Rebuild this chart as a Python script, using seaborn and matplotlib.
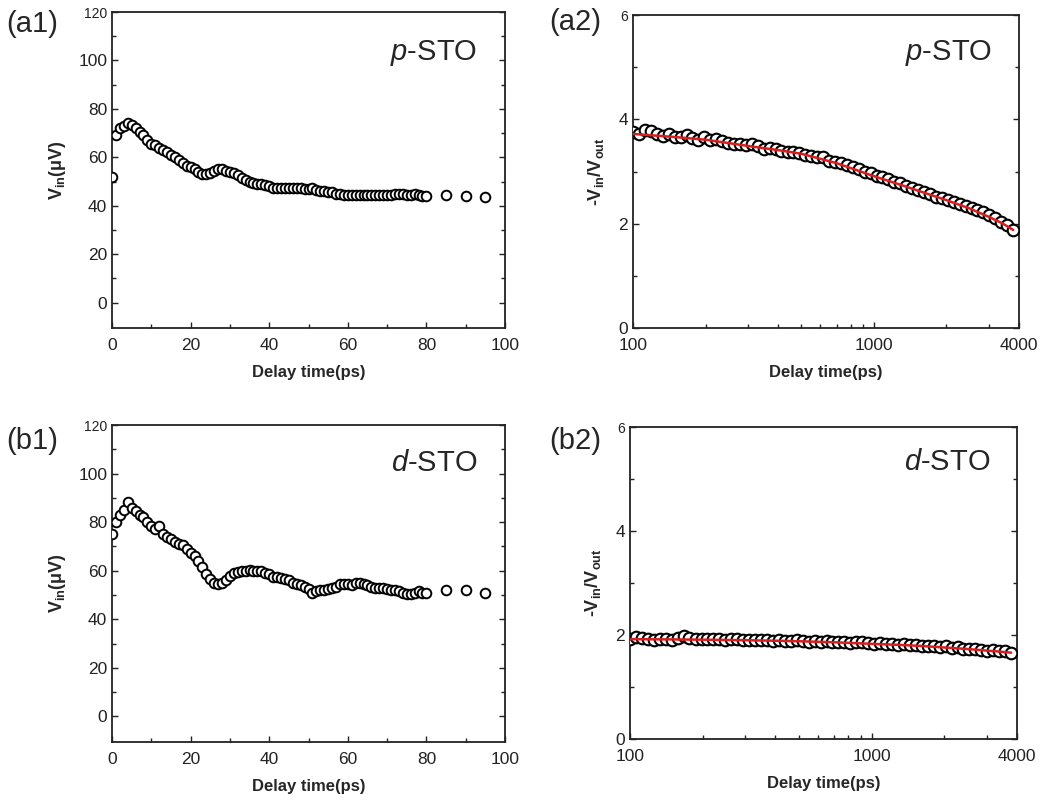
import numpy as np
import pandas as pd
import matplotlib
matplotlib.use("Agg")
import matplotlib.pyplot as plt
import seaborn as sns
from matplotlib.ticker import FixedLocator, NullFormatter

# ---- (a1) p-STO, V_in vs delay time ----
a1_t = [0, 1, 2, 3, 4, 5, 6, 7, 8, 9, 10, 11, 12, 13, 14, 15, 16, 17, 18, 19,
        20, 21, 22, 23, 24, 25, 26, 27, 28, 29, 30, 31, 32, 33, 34, 35, 36, 37, 38, 39,
        40, 41, 42, 43, 44, 45, 46, 47, 48, 49, 50, 51, 52, 53, 54, 55, 56, 57, 58, 59,
        60, 61, 62, 63, 64, 65, 66, 67, 68, 69, 70, 71, 72, 73, 74, 75, 76, 77, 78, 79,
        80, 85, 90, 95]
a1_v = [52, 69, 72, 73, 74, 73.5, 72, 70.5, 69, 67, 65.5, 65, 64, 63, 62, 61, 60, 59, 57.5, 56.5,
        56, 55, 54, 53, 53, 53.5, 54.5, 55, 55, 54.5, 54, 53.5, 52.5, 51.5, 50.5, 50, 49.5, 49, 49, 48.5,
        48, 47.5, 47.5, 47.5, 47.5, 47.5, 47.5, 47.5, 47.5, 47, 47, 47.5, 46.5, 46, 46, 45.5, 45.5, 45, 45, 44.5,
        44.5, 44.5, 44.5, 44.5, 44.5, 44.5, 44.5, 44.5, 44.5, 44.5, 44.5, 44.5, 45, 45, 45, 44.5, 44.5, 45, 44.5, 44,
        44, 44.5, 44, 43.5]

# ---- (b1) d-STO, V_in vs delay time ----
b1_t = a1_t
b1_v = [75, 80, 83, 85, 88.5, 86, 84.5, 83, 82, 80, 78.5, 77, 78.5, 75, 74, 73, 72, 71, 70.5, 69,
        67.5, 66, 64, 61.5, 58.5, 56.5, 55, 54.5, 55, 56, 58, 59, 59.5, 60, 60, 60.5, 60, 60, 60, 59,
        58.5, 57.5, 57.5, 57, 56.5, 56, 55, 54.5, 54, 53.5, 52.5, 51, 51.5, 52, 52, 52.5, 53, 53.5, 54.5, 54.5,
        54.5, 54, 55, 55, 54.5, 54, 53.5, 53, 53, 53, 52.5, 52, 52, 51.5, 51, 50.5, 50.5, 51, 51.5, 51,
        51, 52, 52, 51]

# ---- (a2)/(b2) -V_in/V_out vs delay time (log axis) ----
ratio_t = [100, 106, 112, 119, 126, 133, 141, 149, 158, 167, 176, 187, 198, 209, 221, 234,
           248, 263, 278, 294, 311, 329, 349, 369, 391, 413, 438, 463, 490, 519, 549, 581,
           615, 651, 689, 729, 772, 817, 865, 915, 969, 1025, 1085, 1148, 1215, 1286, 1361, 1441,
           1525, 1614, 1708, 1808, 1914, 2026, 2144, 2269, 2402, 2542, 2690, 2848, 3014, 3190, 3376,
           3573, 3782]
a2_r = [3.76, 3.72, 3.80, 3.77, 3.71, 3.69, 3.72, 3.67, 3.66, 3.70, 3.64, 3.61, 3.66, 3.60, 3.63, 3.58,
        3.54, 3.53, 3.52, 3.51, 3.53, 3.49, 3.44, 3.45, 3.43, 3.40, 3.38, 3.37, 3.35, 3.32, 3.30, 3.28,
        3.27, 3.20, 3.19, 3.16, 3.13, 3.08, 3.05, 3.00, 2.97, 2.92, 2.89, 2.85, 2.80, 2.77, 2.72, 2.69,
        2.64, 2.61, 2.57, 2.52, 2.49, 2.45, 2.41, 2.38, 2.34, 2.30, 2.26, 2.22, 2.16, 2.10, 2.03,
        1.97, 1.88]
b2_r = [1.92, 1.97, 1.95, 1.92, 1.91, 1.93, 1.93, 1.91, 1.94, 1.98, 1.94, 1.93, 1.93, 1.92, 1.93, 1.93,
        1.91, 1.92, 1.92, 1.90, 1.91, 1.90, 1.90, 1.91, 1.89, 1.90, 1.89, 1.88, 1.91, 1.89, 1.87, 1.88,
        1.87, 1.88, 1.86, 1.86, 1.87, 1.85, 1.86, 1.86, 1.84, 1.83, 1.84, 1.83, 1.83, 1.81, 1.82, 1.80,
        1.81, 1.79, 1.79, 1.78, 1.77, 1.78, 1.75, 1.76, 1.74, 1.73, 1.74, 1.72, 1.70, 1.71, 1.69,
        1.69, 1.66]

# fitted curves (red)
fit_t = [100, 150, 200, 300, 400, 500, 700, 1000, 1300, 1600, 2000, 2500, 3000, 3400, 3782]
a2_fit = [3.72, 3.66, 3.61, 3.49, 3.41, 3.34, 3.16, 2.91, 2.74, 2.60, 2.45, 2.29, 2.13, 2.01, 1.88]
b2_fit = [1.92, 1.915, 1.91, 1.90, 1.89, 1.88, 1.86, 1.83, 1.81, 1.79, 1.76, 1.73, 1.70, 1.68, 1.66]

panel_tags = ["(a1)", "(a2)", "(b1)", "(b2)"]
sample_names = [r"$\mathit{p}$-STO", r"$\mathit{p}$-STO", r"$\mathit{d}$-STO", r"$\mathit{d}$-STO"]

sns.set_style("ticks")
plt.rcParams["font.family"] = ["Liberation Sans", "DejaVu Sans"]
plt.rcParams["mathtext.fontset"] = "custom"
plt.rcParams["mathtext.rm"] = "Liberation Sans"
plt.rcParams["mathtext.it"] = "Liberation Sans:italic"
plt.rcParams["mathtext.bf"] = "Liberation Sans:bold"

fig = plt.figure(figsize=(10.42, 8.06), dpi=100)
W, H = 1042, 806


def px_axes(left, top, right, bottom):
    return fig.add_axes([left / W, 1 - bottom / H, (right - left) / W, (bottom - top) / H])


ax_a1 = px_axes(112, 12, 505, 328)
ax_a2 = px_axes(633, 15, 1019, 328)
ax_b1 = px_axes(112, 425, 505, 742)
ax_b2 = px_axes(630, 427, 1017, 739)


def style_axes(ax):
    for s in ax.spines.values():
        s.set_linewidth(1.3)
        s.set_color("#222222")
    ax.tick_params(which="both", direction="in", right=True, top=False,
                   labelsize=12.5, width=1.0, colors="#222222")
    ax.tick_params(which="major", length=4)
    ax.tick_params(which="minor", length=3)
    ax.tick_params(axis="x", which="major", pad=7)


def linear_panel(ax, t, v):
    df = pd.DataFrame({"t": t, "v": v})
    sns.scatterplot(data=df, x="t", y="v", ax=ax, s=48, marker="o",
                    facecolor="white", edgecolor="black", linewidth=1.4, zorder=3)
    ax.set_xlim(0, 100)
    ax.set_ylim(-10.5, 120)
    ax.set_xticks([0, 20, 40, 60, 80, 100])
    ax.set_yticks([0, 20, 40, 60, 80, 100, 120])
    ax.xaxis.set_minor_locator(FixedLocator([10, 30, 50, 70, 90]))
    ax.yaxis.set_minor_locator(FixedLocator([10, 30, 50, 70, 90, 110]))
    ax.set_xlabel("Delay time(ps)", fontsize=12, fontweight="bold", labelpad=9)
    ax.set_ylabel(r"$\mathbf{V_{in}}$(μV)", fontsize=13, fontweight="bold", labelpad=7)
    style_axes(ax)
    ax.yaxis.get_major_ticks()[-1].label1.set_fontsize(10)


def log_panel(ax, t, r, fit):
    df = pd.DataFrame({"t": t, "r": r})
    df_fit = pd.DataFrame({"t": fit_t, "r": fit})
    sns.scatterplot(data=df, x="t", y="r", ax=ax, s=70, marker="o",
                    facecolor="white", edgecolor="black", linewidth=1.5, zorder=3)
    sns.lineplot(data=df_fit, x="t", y="r", ax=ax, color="#d81e1e", linewidth=1.8, zorder=4)
    ax.set_xscale("log")
    ax.set_xlim(100, 4000)
    ax.set_ylim(0, 6)
    ax.xaxis.set_major_locator(FixedLocator([100, 1000, 4000]))
    ax.set_xticklabels(["100", "1000", "4000"])
    ax.xaxis.set_minor_locator(FixedLocator([200, 300, 400, 500, 600, 700, 800, 900, 2000, 3000]))
    ax.xaxis.set_minor_formatter(NullFormatter())
    ax.set_yticks([0, 2, 4, 6])
    ax.yaxis.set_minor_locator(FixedLocator([1, 3, 5]))
    ax.set_xlabel("Delay time(ps)", fontsize=12, fontweight="bold", labelpad=9)
    ax.set_ylabel(r"-$\mathbf{V_{in}}$/$\mathbf{V_{out}}$", fontsize=13, fontweight="bold", labelpad=9)
    style_axes(ax)
    ax.yaxis.get_major_ticks()[-1].label1.set_fontsize(10)


linear_panel(ax_a1, a1_t, a1_v)
linear_panel(ax_b1, b1_t, b1_v)
log_panel(ax_a2, ratio_t, a2_r, a2_fit)
log_panel(ax_b2, ratio_t, b2_r, b2_fit)

# sample names inside the panels
for ax, name, yy in zip([ax_a1, ax_a2, ax_b1, ax_b2], sample_names, [0.87, 0.88, 0.88, 0.888]):
    ax.text(0.93, yy, name, transform=ax.transAxes, ha="right", va="center", fontsize=21)

# panel tags
tag_pos = [(6, 24), (549, 22), (6, 441), (549, 441)]
for tag, (px, py) in zip(panel_tags, tag_pos):
    fig.text(px / W, 1 - py / H, tag, ha="left", va="center", fontsize=21)

fig.savefig("out.png", dpi=100, facecolor="white")
